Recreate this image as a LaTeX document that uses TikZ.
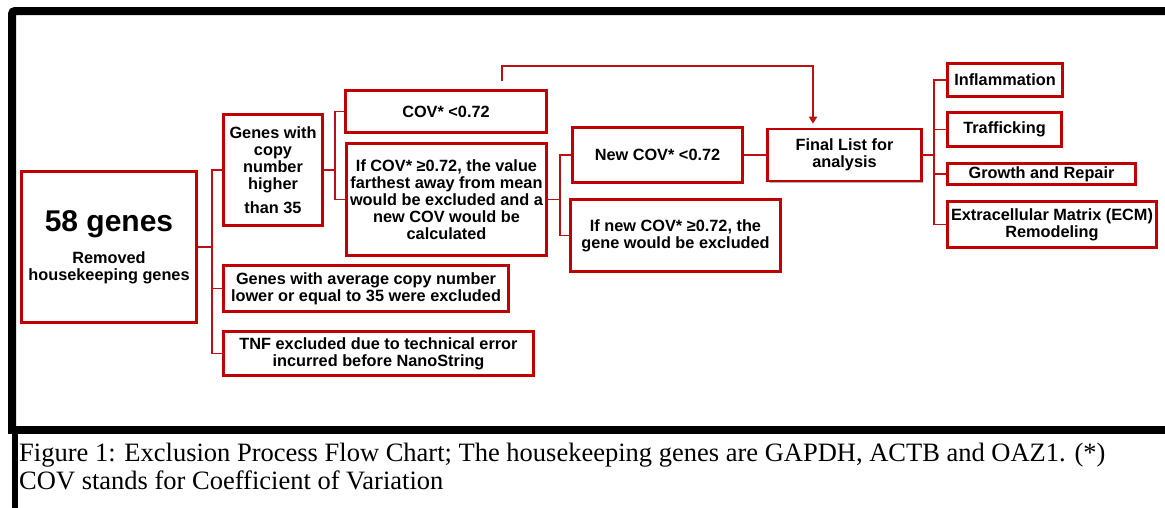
\documentclass[tikz,border=0pt]{standalone}
\usepackage{fontspec}
\setmainfont{Liberation Serif}
\setsansfont{Liberation Sans}
\usetikzlibrary{arrows.meta,shadows}
\definecolor{boxred}{RGB}{192,0,0}
\definecolor{linkred}{RGB}{190,16,16}

\begin{document}
\begin{tikzpicture}[x=1pt, y=-1pt, >={Triangle[width=8pt,length=7pt]},
  box/.style={draw=boxred, line width=2.6pt, fill=white, align=center, inner sep=0pt,
    font=\sffamily\bfseries\fontsize{16.3}{17}\selectfont,
    drop shadow={shadow xshift=1.5pt, shadow yshift=-1.5pt, opacity=0.3, fill=black}},
  link/.style={draw=linkred, line width=1.8pt},
  frame/.style={line width=8pt},
  caption/.style={font=\fontsize{26.5}{28}\selectfont, inner sep=0pt, anchor=base west}]
\useasboundingbox (0,0) rectangle (1165,507);
\clip (0,0) rectangle (1165,507);
\draw[frame, rounded corners=3pt] (1180,11) -- (12,11) -- (12,430);
\draw[frame] (8,430) -- (1180,430);
\draw[line width=6pt] (15,430) -- (15,515);
\node[box, minimum width=175, minimum height=151] (genes) at (109,247)
  {{\fontsize{30}{30}\selectfont 58 genes}\\[13pt]Removed\\housekeeping genes};
\node[box, minimum width=99, minimum height=111] (high) at (273,170)
  {Genes with\\copy\\number\\higher\\[7pt]than 35};
\node[box, minimum width=285, minimum height=46] (average) at (366,288.5)
  {Genes with average copy number\\lower or equal to 35 were excluded};
\node[box, minimum width=310, minimum height=44] (tnf) at (378.5,353.5)
  {TNF excluded due to technical error\\incurred before NanoString};
\node[box, minimum width=201, minimum height=42] (covlow) at (446,111.5) {COV* <0.72};
\node[box, minimum width=200, minimum height=112] (covhigh) at (446.5,199.5)
  {If COV* ≥0.72, the value\\farthest away from mean\\would be excluded and a\\new COV would be\\calculated};
\node[box, minimum width=170, minimum height=55] (newlow) at (657.5,155) {New COV* <0.72};
\node[box, minimum width=210, minimum height=72] (newhigh) at (675.5,235.5)
  {If new COV* ≥0.72, the\\gene would be excluded};
\node[box, minimum width=154, minimum height=52] (final) at (844.5,155) {Final List for\\analysis};
\node[box, minimum width=115, minimum height=33] (infl) at (1005,80) {Inflammation};
\node[box, minimum width=114, minimum height=34] (traf) at (1004.5,129.5) {Trafficking};
\node[box, minimum width=188, minimum height=21] (growth) at (1041.5,174) {Growth and Repair};
\node[box, minimum width=209, minimum height=46] (ecm) at (1052,224.5)
  {Extracellular Matrix (ECM)\\Remodeling};
\draw[link] (genes.east) -- ++(14,0) coordinate (b1) |- (high.west);
\draw[link] (b1) |- (average.west);
\draw[link] (b1) |- (tnf.west);
\draw[link] (high.east) -- ++(11,0) coordinate (b2) |- (covlow.west);
\draw[link] (b2) |- (covhigh.west);
\draw[link] (covhigh.east) -- ++(12,0) coordinate (b3) |- (newlow.west);
\draw[link] (b3) |- (newhigh.west);
\draw[link] (newlow.east) -- (final.west);
\draw[link] (final.east) -- ++(11,0) coordinate (b4) |- (infl.west);
\draw[link] (b4) |- (traf.west);
\draw[link] (b4) |- (growth.west);
\draw[link] (b4) |- (ecm.west);
\coordinate (back) at (502,81);
\draw[link, ->, shorten >=4pt] (back) -- ++(0,-15) -| ([xshift=-31.5pt]final.north);
\node[caption] (cap1) at (19,461)
  {Figure 1: Exclusion Process Flow Chart; The housekeeping genes are GAPDH, ACTB and OAZ1. (*)};
\node[caption] (cap2) at (19,489) {COV stands for Coefficient of Variation};
\end{tikzpicture}
\end{document}
